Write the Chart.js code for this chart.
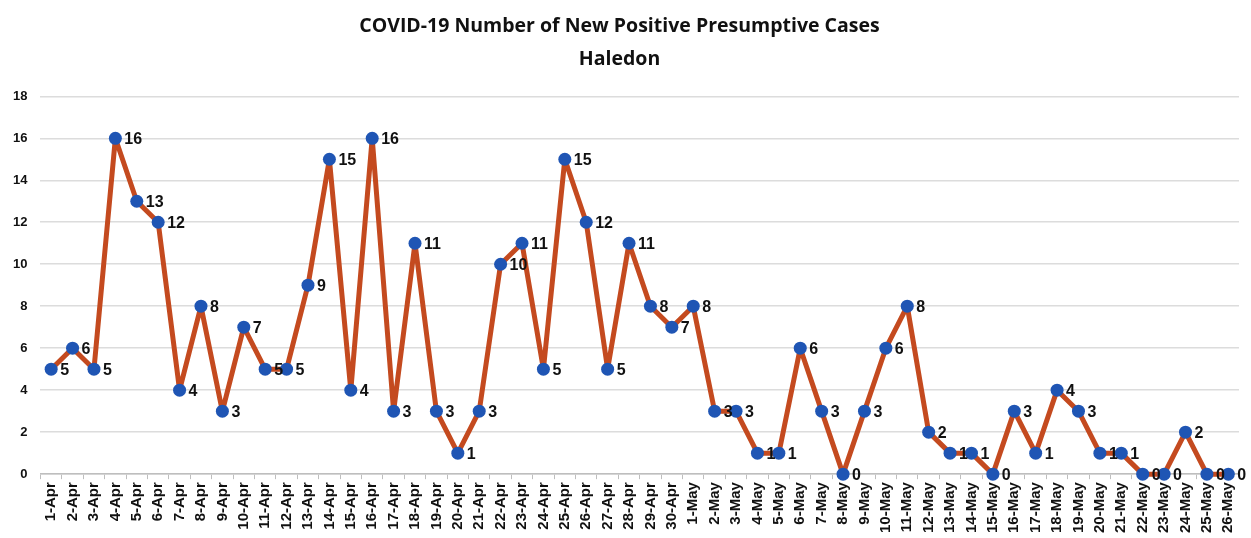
<!DOCTYPE html>
<html>
<head>
<meta charset="utf-8">
<script src="https://cdn.jsdelivr.net/npm/chart.js@4/dist/chart.umd.min.js"></script>
<style>
  html,body{margin:0;padding:0;background:#fff;}
  #wrap{width:1251px;height:538px;position:relative;}
</style>
</head>
<body>
<div id="wrap"><canvas id="c"></canvas></div>
<script>
'use strict';

// ── data ─────────────────────────────────────────────────────────
const aprDays=['1-Apr','2-Apr','3-Apr','4-Apr','5-Apr','6-Apr','7-Apr','8-Apr','9-Apr','10-Apr',
  '11-Apr','12-Apr','13-Apr','14-Apr','15-Apr','16-Apr','17-Apr','18-Apr','19-Apr','20-Apr',
  '21-Apr','22-Apr','23-Apr','24-Apr','25-Apr','26-Apr','27-Apr','28-Apr','29-Apr','30-Apr'];
const mayDays=['1-May','2-May','3-May','4-May','5-May','6-May','7-May','8-May','9-May','10-May',
  '11-May','12-May','13-May','14-May','15-May','16-May','17-May','18-May','19-May','20-May',
  '21-May','22-May','23-May','24-May','25-May','26-May'];
const labels=[...aprDays,...mayDays];

const aprCases=[5,6,5,16,13,12,4,8,3,7,5,5,9,15,4,16,3,11,3,1,3,10,11,5,15,12,5,11,8,7];
const mayCases=[8,3,3,1,1,6,3,0,3,6,8,2,1,1,0,3,1,4,3,1,1,0,0,2,0,0];
const cases=[...aprCases,...mayCases];

const yTicks=[0,2,4,6,8,10,12,14,16,18];

const titleLines=['COVID-19 Number of New Positive Presumptive Cases','Haledon'];

// ── look ─────────────────────────────────────────────────────────
const col={line:'#C44A1F',point:'#1F55B4',grid:'#DCDCDC',axis:'#BEBEBE',text:'#111'};
const fam="'Liberation Sans',Arial,sans-serif";

// data labels to the right of each point
const valueLabels={
  id:'valueLabels',
  afterDatasetsDraw(chart){
    const {ctx}=chart;
    const meta=chart.getDatasetMeta(0);
    ctx.save();
    ctx.font=`bold 16px ${fam}`;
    ctx.fillStyle=col.text;
    ctx.textAlign='left'; ctx.textBaseline='middle';
    meta.data.forEach((pt,i)=>{
      ctx.fillText(String(cases[i]),pt.x+9,pt.y+1);
    });
    ctx.restore();
  }
};

const ctx=document.getElementById('c').getContext('2d');
new Chart(ctx,{
  type:'line',
  data:{labels,datasets:[{
    data:cases,
    borderColor:col.line,borderWidth:5,borderJoinStyle:'round',borderCapStyle:'round',
    pointRadius:6.5,pointHoverRadius:6.5,
    pointBackgroundColor:col.point,pointBorderColor:col.point,pointBorderWidth:0,
    tension:0,clip:false
  }]},
  options:{
    responsive:true,maintainAspectRatio:false,animation:false,
    layout:{padding:{left:0,right:12,top:0,bottom:2}},
    plugins:{
      legend:{display:false},tooltip:{enabled:false},
      title:{display:true,text:titleLines,color:col.text,
        font:{family:"'Open Sans',"+fam,size:19.5,weight:'bold',lineHeight:1.7},
        padding:{top:10,bottom:20}}
    },
    scales:{
      x:{
        offset:true,
        grid:{display:true,drawOnChartArea:false,drawTicks:true,tickLength:5,color:col.axis,offset:true},
        border:{color:col.axis,width:1.5},
        ticks:{color:col.text,font:{family:fam,size:15,weight:'bold'},maxRotation:90,minRotation:90,autoSkip:false,padding:3}
      },
      y:{
        min:0,max:18,
        afterBuildTicks:ax=>{ax.ticks=yTicks.map(v=>({value:v}));},
        grid:{color:col.grid,lineWidth:1.5,drawTicks:false},
        border:{display:false},
        ticks:{color:col.text,font:{family:fam,size:13,weight:'bold'},padding:13}
      }
    }
  },
  plugins:[valueLabels]
});
</script>
</body>
</html>
